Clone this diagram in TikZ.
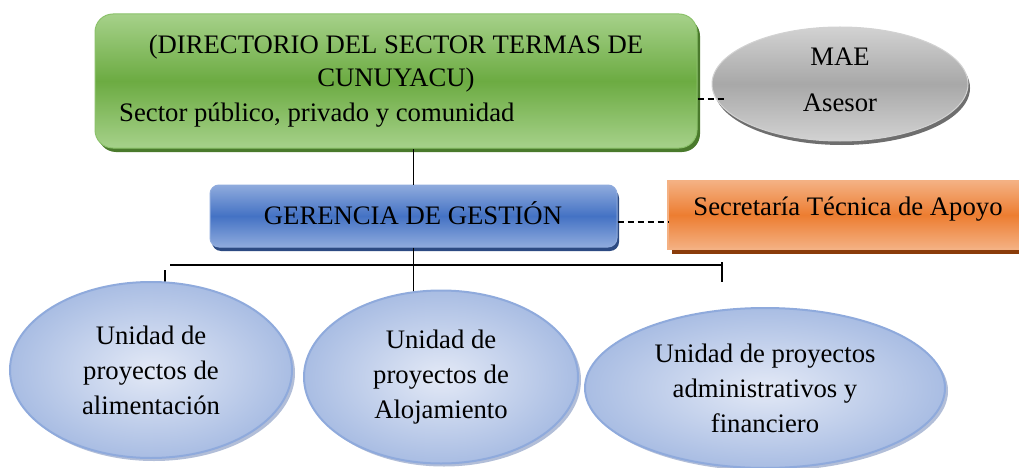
\documentclass[tikz,border=0pt]{standalone}
\usepackage{fontspec}
\setmainfont{Liberation Serif}
\usetikzlibrary{shapes.geometric,shadows}
\definecolor{gLight}{HTML}{A6D18A}
\definecolor{gMid}{HTML}{6CAB42}
\definecolor{gShadow}{HTML}{4A7A2C}
\definecolor{gEdge}{HTML}{8CC26B}
\definecolor{bLight}{HTML}{8FABDD}
\definecolor{bMid}{HTML}{4472C4}
\definecolor{bShadow}{HTML}{2C4A82}
\definecolor{oLight}{HTML}{F4B183}
\definecolor{oMid}{HTML}{ED7D31}
\definecolor{oShadow}{HTML}{8A3C0A}
\definecolor{grLight}{HTML}{D2D2D2}
\definecolor{grMid}{HTML}{A8A8A8}
\definecolor{grShadow}{HTML}{6E6E6E}
\definecolor{uIn}{HTML}{E3E9F6}
\definecolor{uOut}{HTML}{A9BDE3}
\definecolor{uEdge}{HTML}{8FAADC}
\definecolor{uShadow}{HTML}{7F93BF}
\begin{document}
\begin{tikzpicture}[x=1pt,y=-1pt,
  font=\fontsize{26.7}{35}\selectfont,
  txt/.style={inner sep=0pt},
  greenbox/.style={rounded corners=18pt, draw=gEdge, line width=1pt,
    top color=gLight, bottom color=gLight, middle color=gMid,
    general shadow={fill=gShadow, shadow xshift=3pt, shadow yshift=-4pt}},
  bluebox/.style={rounded corners=9pt, draw=bLight, line width=1pt,
    top color=bLight, bottom color=bLight, middle color=bMid,
    general shadow={fill=bShadow, shadow xshift=2pt, shadow yshift=-4pt}},
  orangebox/.style={draw=oLight, line width=1.5pt,
    top color=oLight, bottom color=oLight, middle color=oMid,
    general shadow={fill=oShadow, shadow xshift=4pt, shadow yshift=-5pt}},
  grayell/.style={ellipse, draw=grLight, line width=1pt,
    top color=grLight, bottom color=grLight, middle color=grMid,
    general shadow={fill=grShadow, shadow xshift=2pt, shadow yshift=-4pt}},
  unitell/.style={ellipse, draw=uEdge, line width=2pt, inner sep=0pt, align=center,
    inner color=uIn, outer color=uOut,
    general shadow={fill=uShadow, fill opacity=0.6, shadow xshift=3pt, shadow yshift=-3pt}},
  conn/.style={line width=1.2pt, black},
  dashline/.style={line width=1.2pt, black, dashed, dash pattern=on 6pt off 4pt}]
\clip (0,0) rectangle (1019,468);
\fill[white] (0,0) rectangle (1019,468);

% Directorio
\node[greenbox, minimum width=602pt, minimum height=134pt] (dir) at (396,81) {};
\node[txt] (dirA) at (396,47) {(DIRECTORIO DEL SECTOR TERMAS DE};
\node[txt] (dirB) at (396,80) {CUNUYACU)};
\node[txt, anchor=west] (dirC) at (119,115) {Sector público, privado y comunidad};

% MAE
\node[grayell, minimum width=256pt, minimum height=114pt] (mae) at (840,84) {};
\node[txt] (maeA) at (840,57) {MAE};
\node[txt] (maeB) at (840,103) {Asesor};
\coordinate (maeL) at (724,99);
\draw[dashline] (dir.east |- maeL) -- (maeL);

% Gerencia
\node[bluebox, minimum width=407pt, minimum height=62pt] (ger) at (413.5,216) {};
\node[txt] (gerT) at (413,213) {GERENCIA DE GESTIÓN};
\draw[conn] (ger.north) -- (ger.north |- dir.south);

% Secretaria
\node[orangebox, minimum width=362pt, minimum height=68pt] (sec) at (849,215) {};
\node[txt] (secT) at (848,209) {Secretaría Técnica de Apoyo};
\coordinate (secL) at (668,222);
\draw[dashline] (ger.east |- secL) -- (secL);

% Bus
\coordinate (busL) at (170,265);
\coordinate (busR) at (722,265);
\coordinate (tickL) at (165,284);
\coordinate (tickR) at (722,282);
\coordinate (midEnd) at (413.5,295);
\draw[conn] (busL) -- (busR);
\draw[conn] (ger.south) -- (midEnd);
\draw[conn] ([yshift=-5pt]tickL |- busL) -- (tickL);
\draw[conn] ([yshift=3pt]busR) -- (tickR);

% Units
\node[unitell, minimum width=282pt, minimum height=176pt] (u1) at (151,370)
  {Unidad de\\proyectos de\\alimentación};
\node[unitell, minimum width=274pt, minimum height=173pt] (u2) at (441,377)
  {Unidad de\\proyectos de\\Alojamiento};
\node[unitell, minimum width=360pt, minimum height=160pt] (u3) at (765,388)
  {Unidad de proyectos\\administrativos y\\financiero};
\end{tikzpicture}
\end{document}
